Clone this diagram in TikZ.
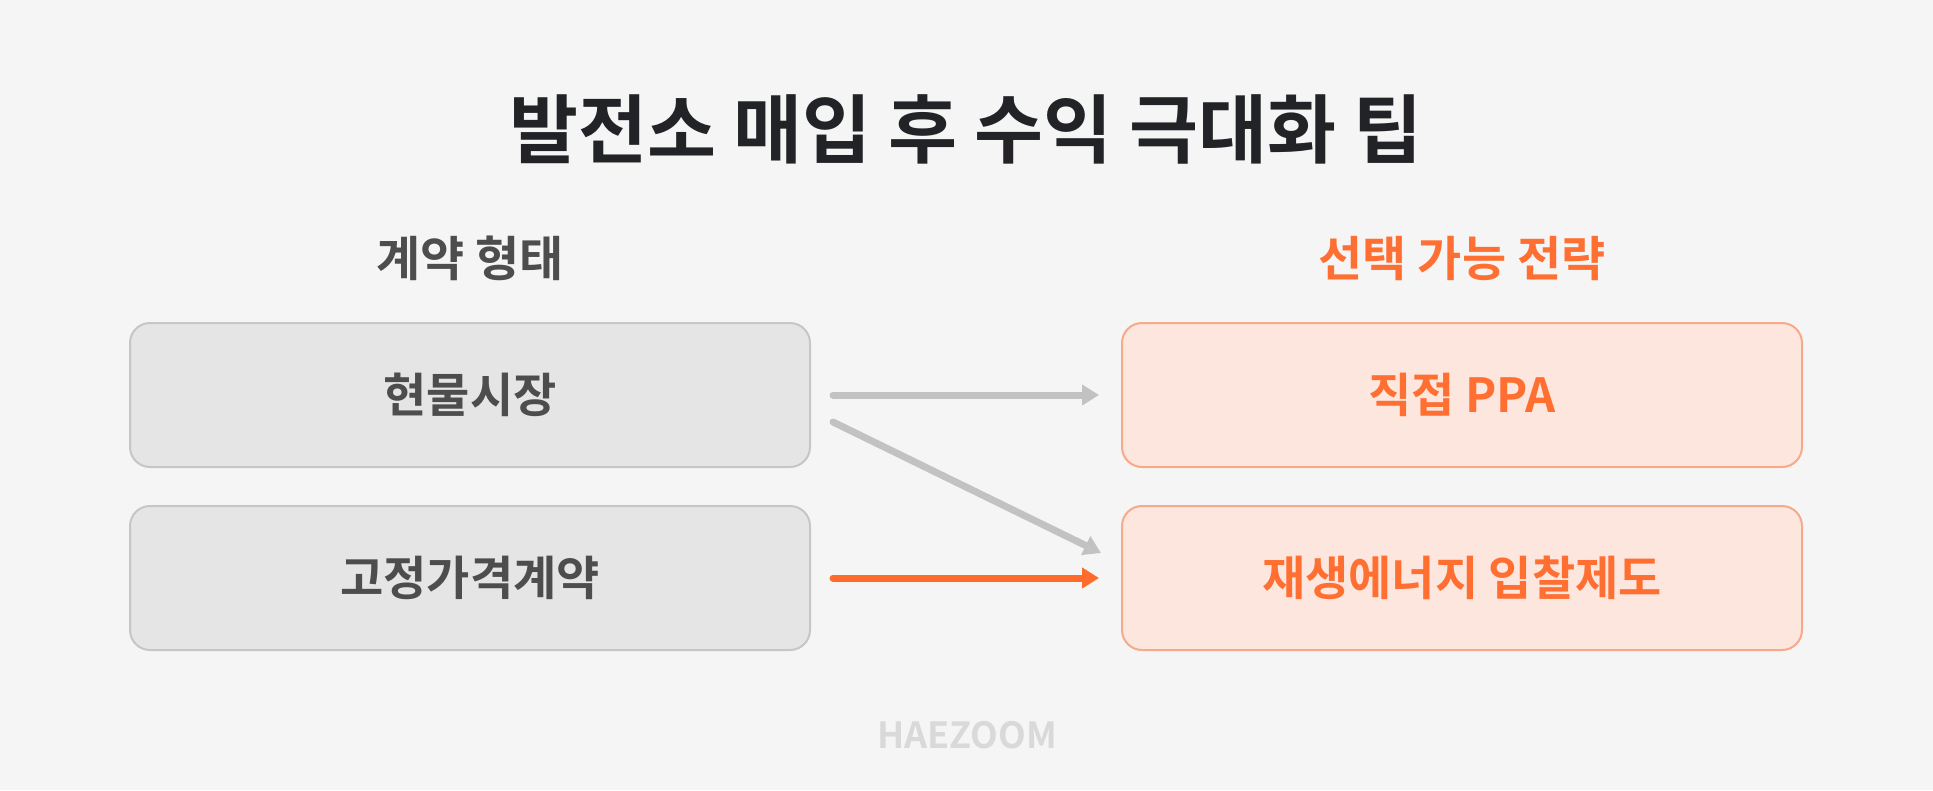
\documentclass[tikz,border=0pt]{standalone}
\usepackage{fontspec}
\setmainfont{Noto Sans CJK KR}[BoldFont={Noto Sans CJK KR Bold}]
\usetikzlibrary{arrows.meta,positioning}
\definecolor{bgcol}{HTML}{F5F5F5}
\definecolor{titlecol}{HTML}{222326}
\definecolor{graytext}{HTML}{4D4D4D}
\definecolor{grayfill}{HTML}{E5E5E5}
\definecolor{grayline}{HTML}{C6C6C6}
\definecolor{orangetext}{HTML}{FF6F32}
\definecolor{orangefill}{HTML}{FCE6DD}
\definecolor{orangeline}{HTML}{F6A98B}
\definecolor{grayarrow}{HTML}{C2C2C2}
\definecolor{orangearrow}{HTML}{FF6B2B}
\definecolor{markcol}{HTML}{D9D9D9}
\tikzset{
  leftbox/.style={draw=grayline, fill=grayfill, line width=2pt, rounded corners=20pt,
    minimum width=680pt, minimum height=144pt, text=graytext,
    font=\fontsize{47}{54}\selectfont\bfseries},
  rightbox/.style={leftbox, draw=orangeline, fill=orangefill, text=orangetext},
  heading/.style={font=\fontsize{48}{56}\selectfont\bfseries},
  flow/.style={line width=7pt, line cap=round, -{Triangle[length=17pt,width=20pt]}}
}
\begin{document}
\begin{tikzpicture}[x=1pt,y=1pt]
% background
\fill[bgcol] (0,0) rectangle (1933,-790);
\useasboundingbox (0,0) rectangle (1933,-790);

% title
\node[font=\fontsize{75}{88}\selectfont\bfseries, text=titlecol] (title) at (966,-129) {발전소 매입 후 수익 극대화 팁};

% column headings
\node[heading, text=graytext] (lefthead) at (470,-258) {계약 형태};
\node[heading, text=orangetext] (righthead) at (1462,-258) {선택 가능 전략};

% boxes
\node[leftbox] (spot) at (470,-395) {현물시장};
\node[leftbox] (fixed) at (470,-578) {고정가격계약};
\node[rightbox] (ppa) at (1462,-395) {직접 PPA};
\node[rightbox] (rec) at (1462,-578) {재생에너지 입찰제도};

% arrows
\draw[flow, grayarrow] ([xshift=22pt]spot.east) -- ([xshift=-22pt]ppa.west);
\draw[flow, grayarrow] ([xshift=22pt,yshift=-27pt]spot.east) -- ([xshift=-20pt,yshift=25pt]rec.west);
\draw[flow, orangearrow] ([xshift=22pt]fixed.east) -- ([xshift=-22pt]rec.west);

% watermark
\node[font=\fontsize{36}{42}\selectfont\bfseries, text=markcol] (mark) at (967,-735) {HAEZOOM};
\end{tikzpicture}
\end{document}
